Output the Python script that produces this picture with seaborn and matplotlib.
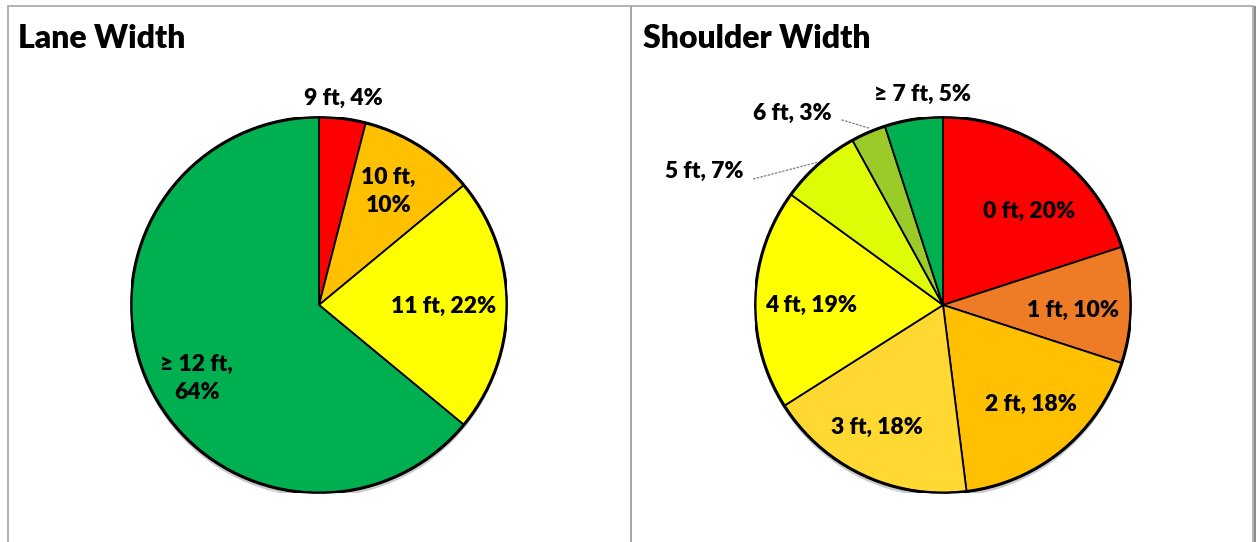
import matplotlib
matplotlib.use("Agg")
import matplotlib.pyplot as plt
import matplotlib.patheffects as pe
from matplotlib.patches import Circle, Rectangle
import seaborn as sns

# data
lane_cats = ["9 ft", "10 ft", "11 ft", "\u2265 12 ft"]
lane_pct = [4, 10, 22, 64]
lane_colors = ["#FF0000", "#FFC000", "#FFFF00", "#00B050"]

shoulder_cats = ["0 ft", "1 ft", "2 ft", "3 ft", "4 ft", "5 ft", "6 ft", "\u2265 7 ft"]
shoulder_pct = [20, 10, 18, 18, 19, 7, 3, 5]
shoulder_colors = ["#FF0000", "#EE7B26", "#FFC000", "#FFD932", "#FFFF00",
                   "#DDFC05", "#9ACB28", "#00B050"]

# label placement (unit circle coords) and line breaks
lane_lbl_pos = [(0.13, 1.10), (0.37, 0.605), (0.66, -0.01), (-0.65, -0.39)]
lane_wrap = [False, True, False, True]
shoulder_lbl_pos = [(0.46, 0.50), (0.69, -0.03), (0.47, -0.53), (-0.35, -0.65),
                    (-0.70, 0.0), (-1.27, 0.71), (-0.80, 1.02), (-0.11, 1.12)]
shoulder_wrap = [False] * 8
# leader lines: index -> (text end, wedge end)
shoulder_leaders = {5: ((-1.01, 0.67), (-0.665, 0.76)),
                    6: ((-0.54, 0.985), (-0.39, 0.94))}

sns.set_theme(style="white")
plt.rcParams["font.family"] = ["Lato", "DejaVu Sans"]

W, H = 1257, 542
fig = plt.figure(figsize=(W / 100, H / 100), dpi=100)
fig.patch.set_facecolor("white")

# panel frames (open at the bottom)
for x0, x1 in [(8, 631), (631, 1253)]:
    fig.add_artist(Rectangle((x0 / W, -0.1), (x1 - x0) / W, (H - 6) / H + 0.1,
                             transform=fig.transFigure, fill=False,
                             edgecolor="#A6A6A6", linewidth=1.2))
fig.add_artist(Rectangle((1254 / W, 0), 2 / W, (H - 6) / H,
                         transform=fig.transFigure, color="#8C8C8C", lw=0))

R = 188


def draw_pie(cx, cy, cats, pct, colors, pos, wrap, title, tx, leaders=None):
    ax = fig.add_axes([(cx - R) / W, (H - cy - R) / H, 2 * R / W, 2 * R / H])
    ax.add_patch(Circle((0, 0), 1, facecolor="white", edgecolor="none",
                        path_effects=[pe.SimplePatchShadow(offset=(0, -3),
                                                           shadow_rgbFace="#999999",
                                                           alpha=0.5)]))
    ax.pie(pct, colors=colors, startangle=90, counterclock=False, radius=1,
           wedgeprops=dict(edgecolor="black", linewidth=1.3))
    ax.add_patch(Circle((0, 0), 1, fill=False, edgecolor="black", linewidth=2.2))
    for c, v, (x, y), w in zip(cats, pct, pos, wrap):
        sep = ",\n" if w else ", "
        ax.text(x, y, f"{c}{sep}{v}%", ha="center", va="center", fontsize=16.5,
                fontweight="heavy", color="black", linespacing=1.4)
    if leaders:
        for (a, b) in leaders.values():
            ax.plot([a[0], b[0]], [a[1], b[1]], color="#7F7F7F", lw=0.9,
                    ls=(0, (2, 1)), clip_on=False)
    ax.set_xlim(-1, 1)
    ax.set_ylim(-1, 1)
    ax.set_aspect("equal")
    ax.axis("off")
    fig.text(tx / W, 1 - 39 / H, title, fontsize=23, fontweight="heavy",
             ha="left", va="center", color="black")


draw_pie(319, 305, lane_cats, lane_pct, lane_colors, lane_lbl_pos, lane_wrap,
         "Lane Width", 18)
draw_pie(943, 305, shoulder_cats, shoulder_pct, shoulder_colors,
         shoulder_lbl_pos, shoulder_wrap, "Shoulder Width", 643, shoulder_leaders)

fig.savefig("out.png", dpi=100)
